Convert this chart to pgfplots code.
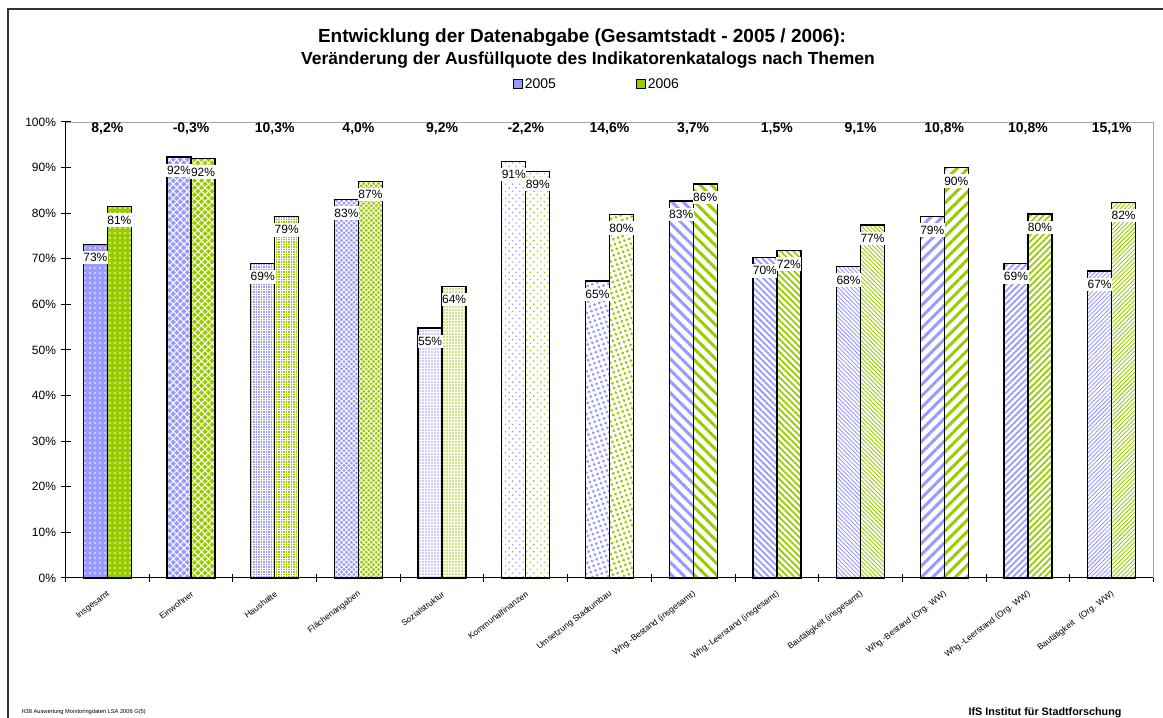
\documentclass[border=0pt]{standalone}
\usepackage{pgfplots}
\pgfplotsset{compat=1.18}
\usepackage{fontspec}
\setmainfont{Liberation Sans}
\usetikzlibrary{patterns.meta}

\definecolor{c05}{RGB}{153,153,255}
\definecolor{c06}{RGB}{153,204,0}

\pgfplotsset{
  valnode/.style={
    nodes near coords={\pgfmathprintnumber[fixed,precision=0]{\pgfplotspointmeta}\%},
    every node near coord/.append style={anchor=north, fill=white, inner xsep=0.6pt,
      inner ysep=2.5pt, yshift=-6pt, xshift=#1, font=\fontsize{12}{12}\selectfont, text=black},
  },
  b05/.style={ybar, bar width=24pt, bar shift=-12pt, draw=black, line width=1.3pt, forget plot, valnode=-12pt},
  b06/.style={ybar, bar width=24pt, bar shift=12pt, draw=black, line width=1.3pt, forget plot, valnode=12pt},
  % fill patterns, one per topic
  pA/.style={preaction={fill=#1}, pattern={Dots[distance=5pt,radius=0.9pt]}, pattern color=white},
  pB/.style={preaction={fill=#1}, pattern={Hatch[distance=5pt,angle=45,line width=1pt]}, pattern color=white},
  pC/.style={preaction={fill=#1}, pattern={Hatch[distance=2.5pt,angle=0,line width=0.8pt]}, pattern color=white},
  pD/.style={preaction={fill=#1}, pattern={Hatch[distance=3.5pt,angle=45,line width=0.9pt]}, pattern color=white},
  pE/.style={pattern={Dots[distance=3pt,radius=0.8pt]}, pattern color=#1},
  pF/.style={pattern={Dots[distance=5pt,radius=0.9pt,angle=45]}, pattern color=#1},
  pG/.style={pattern={Dots[distance=5pt,radius=1.6pt,angle=20]}, pattern color=#1},
  pH/.style={pattern={Lines[distance=8pt,angle=-45,line width=3pt]}, pattern color=#1},
  pI/.style={pattern={Lines[distance=4.5pt,angle=-45,line width=1.8pt]}, pattern color=#1},
  pJ/.style={pattern={Lines[distance=3pt,angle=-45,line width=0.9pt]}, pattern color=#1},
  pK/.style={pattern={Lines[distance=8pt,angle=45,line width=3pt]}, pattern color=#1},
  pL/.style={pattern={Lines[distance=4.5pt,angle=45,line width=1.8pt]}, pattern color=#1},
  pM/.style={pattern={Lines[distance=3pt,angle=45,line width=0.9pt]}, pattern color=#1},
}

\begin{document}
\begin{tikzpicture}
\useasboundingbox (0pt,0pt) rectangle (1163pt,718pt);
\draw[line width=1.5pt, black!80] (8pt,0pt) -- (8pt,709pt) -- (1163pt,709pt);

\node[font=\bfseries\fontsize{19}{19}\selectfont] at (582pt,680pt)
  {Entwicklung der Datenabgabe (Gesamtstadt - 2005 / 2006):};
\node[font=\bfseries\fontsize{17.5}{17.5}\selectfont] at (588pt,658pt)
  {Veränderung der Ausfüllquote des Indikatorenkatalogs nach Themen};

\begin{axis}[
  at={(65.5pt,140pt)}, anchor=south west,
  scale only axis, width=1088pt, height=456pt,
  xmin=-0.5, xmax=12.5, ymin=0, ymax=100,
  axis lines*=left,
  axis line style={black, line width=1pt},
  clip=false,
  point meta=y,
  xtick={0,...,12},
  xticklabels={Insgesamt, Einwohner, Haushalte, Flächenangaben, Sozialstruktur,
    Kommunalfinanzen, Umsetzung Stadtumbau, Whg.-Bestand (insgesamt),
    Whg.-Leerstand (insgesamt), Bautätigkeit (insgesamt), Whg.-Bestand (Org. WW),
    Whg.-Leerstand (Org. WW), Bautätigkeit\ \ \ (Org. WW)},
  minor xtick={-0.5,0.5,...,12.5},
  every tick/.style={black, line width=1pt},
  major x tick style={draw=none},
  major tick length=10pt,
  minor tick length=8pt,
  tick align=center,
  ytick={0,10,...,100},
  yticklabel={\pgfmathprintnumber{\tick}\%},
  /pgf/number format/assume math mode=true,
  yticklabel style={font=\fontsize{12}{12}\selectfont, xshift=-1pt},
  xticklabel style={font=\fontsize{8.5}{8.5}\selectfont, rotate=37, anchor=east,
    inner sep=0pt, xshift=-5pt, yshift=-9pt},
  legend columns=2,
  legend style={at={(0.4885,1.083)}, anchor=center, draw=none,
    font=\fontsize{14}{14}\selectfont, inner sep=0pt},
  /tikz/every even column/.append style={column sep=78pt},
  legend cell align=left,
]
\addlegendimage{legend image code/.code={\draw[fill=c05, draw=black, line width=0.8pt] (0pt,-4.5pt) rectangle (9pt,4.5pt);}}
\addlegendentry{2005}
\addlegendimage{legend image code/.code={\draw[fill=c06, draw=black, line width=0.8pt] (0pt,-4.5pt) rectangle (9pt,4.5pt);}}
\addlegendentry{2006}

% 2005
\addplot[b05, pA=c05] coordinates {(0,73.2)};
\addplot[b05, pB=c05] coordinates {(1,92.3)};
\addplot[b05, pC=c05] coordinates {(2,69.0)};
\addplot[b05, pD=c05] coordinates {(3,83.0)};
\addplot[b05, pE=c05] coordinates {(4,54.8)};
\addplot[b05, pF=c05] coordinates {(5,91.4)};
\addplot[b05, pG=c05] coordinates {(6,65.1)};
\addplot[b05, pH=c05] coordinates {(7,82.7)};
\addplot[b05, pI=c05] coordinates {(8,70.3)};
\addplot[b05, pJ=c05] coordinates {(9,68.3)};
\addplot[b05, pK=c05] coordinates {(10,79.2)};
\addplot[b05, pL=c05] coordinates {(11,69.0)};
\addplot[b05, pM=c05] coordinates {(12,67.3)};
% 2006
\addplot[b06, pA=c06] coordinates {(0,81.4)};
\addplot[b06, pB=c06] coordinates {(1,92.0)};
\addplot[b06, pC=c06] coordinates {(2,79.3)};
\addplot[b06, pD=c06] coordinates {(3,87.0)};
\addplot[b06, pE=c06] coordinates {(4,64.0)};
\addplot[b06, pF=c06] coordinates {(5,89.2)};
\addplot[b06, pG=c06] coordinates {(6,79.7)};
\addplot[b06, pH=c06] coordinates {(7,86.4)};
\addplot[b06, pI=c06] coordinates {(8,71.8)};
\addplot[b06, pJ=c06] coordinates {(9,77.4)};
\addplot[b06, pK=c06] coordinates {(10,90.0)};
\addplot[b06, pL=c06] coordinates {(11,79.8)};
\addplot[b06, pM=c06] coordinates {(12,82.4)};

% plot area frame (top and right)
\draw[gray!70, line width=0.8pt] (rel axis cs:0,1) -- (rel axis cs:1,1) -- (rel axis cs:1,0);

% change 2005 -> 2006 in percentage points
\begin{scope}[every node/.style={font=\bfseries\fontsize{14}{14}\selectfont}]
\node at (axis cs:0,98.6) {8,2\%};
\node at (axis cs:1,98.6) {-0,3\%};
\node at (axis cs:2,98.6) {10,3\%};
\node at (axis cs:3,98.6) {4,0\%};
\node at (axis cs:4,98.6) {9,2\%};
\node at (axis cs:5,98.6) {-2,2\%};
\node at (axis cs:6,98.6) {14,6\%};
\node at (axis cs:7,98.6) {3,7\%};
\node at (axis cs:8,98.6) {1,5\%};
\node at (axis cs:9,98.6) {9,1\%};
\node at (axis cs:10,98.6) {10,8\%};
\node at (axis cs:11,98.6) {10,8\%};
\node at (axis cs:12,98.6) {15,1\%};
\end{scope}
\end{axis}

\node[anchor=base west, font=\fontsize{5.7}{5.7}\selectfont] at (18pt,4pt)
  {H38 Auswertung Monitoringdaten LSA 2006 G(5)};
\node[anchor=base west, font=\bfseries\fontsize{10.8}{10.8}\selectfont] at (965pt,2.5pt)
  {IfS Institut für Stadtforschung};
\end{tikzpicture}
\end{document}
